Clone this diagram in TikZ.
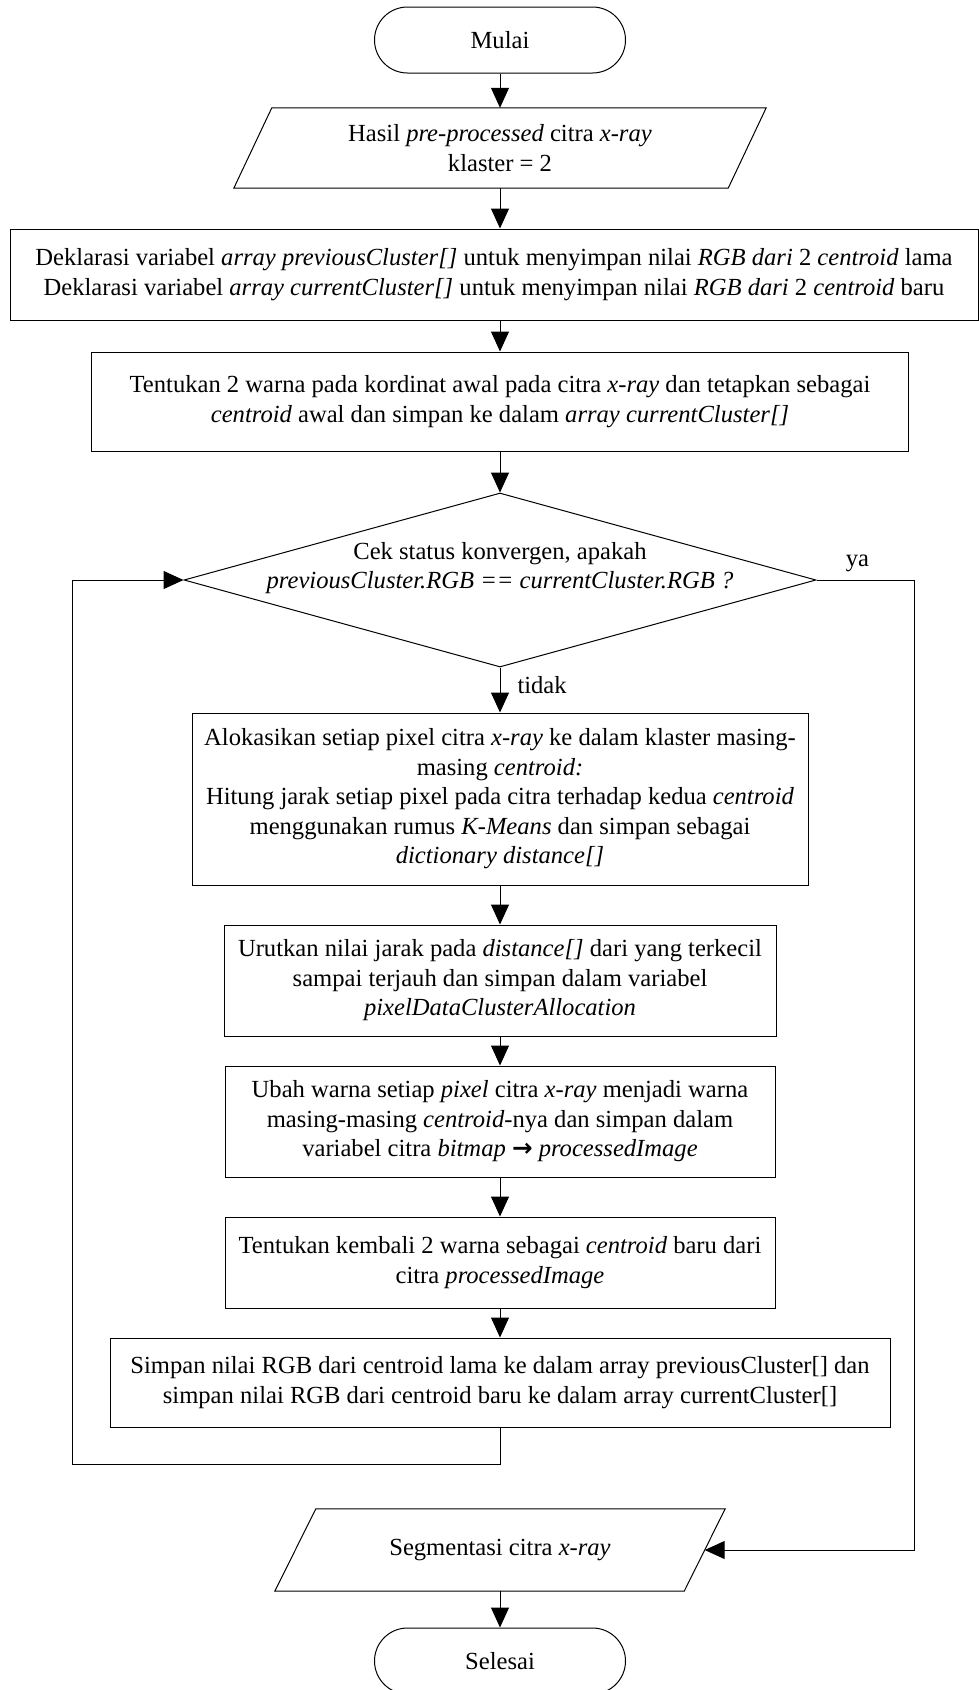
\documentclass[tikz,border=0pt]{standalone}
\usepackage{fontspec}
\setmainfont{Liberation Serif}
\newfontfamily\arrowfont{DejaVu Sans}
\usetikzlibrary{arrows.meta,shapes.geometric}
\begin{document}
\begin{tikzpicture}[x=1pt,y=-1pt,
  font=\fontsize{24.6}{29.5}\selectfont,
  line/.style={line width=1pt},
  arr/.style={line, -{Triangle[length=20pt,width=18pt]}},
  proc/.style={draw, line width=1pt, rectangle, inner sep=0pt, align=center},
  term/.style={draw, line width=1pt, rectangle, rounded corners=33pt,
    minimum width=251pt, minimum height=66pt, inner sep=0pt},
  iotext/.style={rectangle, inner sep=0pt, align=center},
  decision/.style={draw, line width=1pt, diamond, inner sep=0pt,
    minimum width=632pt, minimum height=174pt},
  lbl/.style={inner sep=0pt}
]
\useasboundingbox (0,0) rectangle (979,1690);

% start
\node[term] (start) at (500,40) {Mulai};

% input parallelogram
\node[iotext, minimum width=494pt, minimum height=80pt] (in) at (500,148)
  {Hasil \textit{pre-processed} citra \textit{x-ray}\\klaster = 2};
\draw[line] ([xshift=19pt]in.north west) -- ([xshift=19pt]in.north east)
  -- ([xshift=-19pt]in.south east) -- ([xshift=-19pt]in.south west) -- cycle;

% declarations
\node[proc, minimum width=968pt, minimum height=91pt] (decl) at (494,274.5)
  {Deklarasi variabel \textit{array previousCluster[]} untuk menyimpan nilai \textit{RGB dari} 2 \textit{centroid} lama\\
   Deklarasi variabel \textit{array currentCluster[]} untuk menyimpan nilai \textit{RGB dari} 2 \textit{centroid} baru};

% initial centroids
\node[proc, minimum width=817pt, minimum height=99pt] (init) at (500,401.5)
  {Tentukan 2 warna pada kordinat awal pada citra \textit{x-ray} dan tetapkan sebagai\\
   \textit{centroid} awal dan simpan ke dalam \textit{array currentCluster[]}};

% convergence test
\node[decision] (dec) at (500,580) {};
\node[lbl, align=center] (dectext) at (500,568)
  {Cek status konvergen, apakah\\
   \textit{previousCluster.RGB == currentCluster.RGB ?}};

% loop body
\node[proc, minimum width=616pt, minimum height=172pt] (alloc) at (500,799)
  {Alokasikan setiap pixel citra \textit{x-ray} ke dalam klaster masing-\\
   masing \textit{centroid:}\\
   Hitung jarak setiap pixel pada citra terhadap kedua \textit{centroid}\\
   menggunakan rumus \textit{K-Means} dan simpan sebagai\\
   \textit{dictionary distance[]}};

\node[proc, minimum width=552pt, minimum height=111pt] (sort) at (500,980.5)
  {Urutkan nilai jarak pada \textit{distance[]} dari yang terkecil\\
   sampai terjauh dan simpan dalam variabel\\
   \textit{pixelDataClusterAllocation}};

\node[proc, minimum width=550pt, minimum height=111pt] (recolor) at (500,1121.5)
  {Ubah warna setiap \textit{pixel} citra \textit{x-ray} menjadi warna\\
   masing-masing \textit{centroid}-nya dan simpan dalam\\
   variabel citra \textit{bitmap} {\arrowfont\bfseries →} \textit{processedImage}};

\node[proc, minimum width=550pt, minimum height=91pt] (recalc) at (500,1262.5)
  {Tentukan kembali 2 warna sebagai \textit{centroid} baru dari\\
   citra \textit{processedImage}};

\node[proc, minimum width=780pt, minimum height=89pt] (store) at (500,1382.5)
  {Simpan nilai RGB dari centroid lama ke dalam array previousCluster[] dan\\
   simpan nilai RGB dari centroid baru ke dalam array currentCluster[]};

% output parallelogram
\node[iotext, minimum width=409pt, minimum height=82pt] (out) at (500,1550)
  {Segmentasi citra \textit{x-ray}};
\draw[line] ([xshift=20.5pt]out.north west) -- ([xshift=20.5pt]out.north east)
  -- ([xshift=-20.5pt]out.south east) -- ([xshift=-20.5pt]out.south west) -- cycle;

% end
\node[term] (stop) at (500,1661) {Selesai};

% routing points
\coordinate (loopA) at (500,1464);
\coordinate (loopB) at (72,1464);
\coordinate (yesA) at (914,580);

% connectors
\draw[arr] (start.south) -- (in.north);
\draw[arr] (in.south) -- (in.south |- decl.north);
\draw[arr] (init.north |- decl.south) -- (init.north);
\draw[arr] (init.south) -- (dec.north);
\draw[arr] (dec.south) -- node[lbl, pos=0.38, anchor=west, xshift=17pt] {tidak} (alloc.north);
\draw[arr] (alloc.south) -- (sort.north);
\draw[arr] (sort.south) -- (recolor.north);
\draw[arr] (recolor.south) -- (recalc.north);
\draw[arr] (recalc.south) -- (store.north);
\draw[arr] (store.south) -- (loopA) -- (loopB) -- (loopB |- dec.west) -- (dec.west);
\draw[arr] (dec.east) -- node[lbl, pos=0.42, anchor=south, yshift=8pt] {ya} (yesA)
  -- (yesA |- out.east) -- (out.east);
\draw[arr] (out.south) -- (stop.north);
\end{tikzpicture}
\end{document}
